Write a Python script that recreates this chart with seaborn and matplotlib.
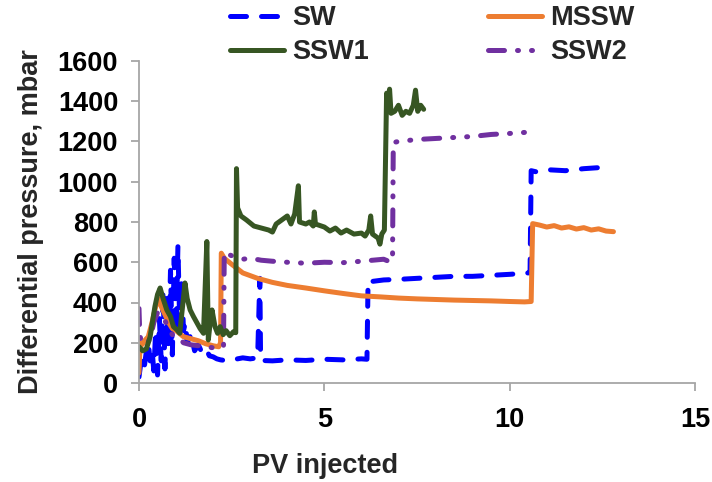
import matplotlib
matplotlib.use("Agg")
import matplotlib.pyplot as plt
import seaborn as sns
import pandas as pd

# ---------------- data ----------------
sw_x = [0.00, 0.05, 0.10, 0.15, 0.20, 0.25, 0.30, 0.35, 0.40, 0.45, 0.50, 0.55, 0.60, 0.65,
        0.70, 0.75, 0.80, 0.85, 0.90, 0.95, 1.00, 1.05, 1.10, 1.15, 1.20, 1.25, 1.30, 1.40,
        1.50, 1.60, 1.70, 1.80, 1.90, 2.00, 2.10, 2.20, 2.40, 2.60, 2.80, 3.00, 3.20, 3.26,
        3.28, 3.30, 3.60, 4.00, 4.50, 5.00, 5.50, 6.00, 6.15, 6.18, 6.30, 6.60, 7.00, 7.50,
        8.00, 8.50, 9.00, 9.50, 10.00, 10.40, 10.55, 10.58, 10.70, 11.00, 11.50, 12.00, 12.40]
sw_y = [30, 100, 140, 90, 160, 200, 110, 170, 60, 260, 40, 320, 110, 460,
        70, 420, 190, 560, 140, 620, 240, 680, 280, 520, 260, 300, 200, 240,
        160, 190, 150, 170, 135, 130, 120, 115, 110, 118, 125, 120, 125, 520,
        125, 112, 110, 115, 112, 118, 115, 120, 118, 510, 505, 512, 515, 520,
        525, 530, 530, 535, 540, 545, 548, 1055, 1050, 1060, 1055, 1065, 1070]

mssw_x = [0.00, 0.03, 0.08, 0.15, 0.25, 0.35, 0.45, 0.52, 0.60, 0.70, 0.80, 0.90, 1.00, 1.20,
          1.40, 1.60, 1.80, 2.00, 2.15, 2.20, 2.22, 2.30, 2.50, 2.80, 3.20, 3.60, 4.00, 4.50,
          5.00, 5.50, 6.00, 6.50, 7.00, 7.50, 8.00, 8.50, 9.00, 9.50, 10.00, 10.40, 10.58,
          10.62, 10.80, 11.00, 11.20, 11.40, 11.60, 11.80, 12.00, 12.20, 12.40, 12.60, 12.80]
mssw_y = [50, 200, 190, 210, 230, 300, 380, 420, 380, 340, 300, 270, 260, 230,
          220, 210, 195, 185, 180, 200, 645, 620, 590, 547, 520, 500, 485, 472,
          458, 445, 433, 428, 422, 418, 415, 412, 410, 408, 405, 403, 405,
          792, 785, 775, 782, 770, 776, 765, 772, 760, 766, 755, 752]

ssw1_x = [0.00, 0.10, 0.20, 0.30, 0.43, 0.50, 0.57, 0.65, 0.75, 0.85, 0.93, 1.02, 1.10, 1.24,
          1.30, 1.38, 1.47, 1.56, 1.65, 1.74, 1.83, 1.87, 1.92, 1.97, 2.05, 2.12, 2.19, 2.27,
          2.35, 2.45, 2.55, 2.61, 2.63, 2.66, 2.75, 2.90, 3.10, 3.30, 3.50, 3.60, 3.70, 3.85,
          4.00, 4.10, 4.20, 4.30, 4.33, 4.50, 4.60, 4.70, 4.73, 4.76, 5.00, 5.15, 5.30, 5.45,
          5.60, 5.80, 6.00, 6.10, 6.20, 6.25, 6.30, 6.45, 6.50, 6.55, 6.62, 6.68, 6.72, 6.76,
          6.80, 6.90, 7.00, 7.10, 7.20, 7.30, 7.40, 7.46, 7.52, 7.60, 7.68]
ssw1_y = [180, 160, 170, 230, 380, 440, 472, 420, 363, 330, 280, 265, 247, 497,
          420, 363, 330, 300, 270, 247, 703, 214, 300, 363, 280, 247, 280, 240,
          260, 235, 255, 250, 1065, 870, 830, 810, 780, 770, 760, 750, 790, 810,
          830, 790, 840, 980, 800, 790, 800, 780, 850, 790, 775, 755, 770, 745,
          760, 740, 745, 730, 760, 830, 740, 720, 690, 740, 760, 1440, 1400, 1460,
          1340, 1350, 1380, 1330, 1350, 1340, 1380, 1455, 1350, 1380, 1360]

ssw2_x = [0.00, 0.02, 0.05, 0.10, 0.20, 0.30, 0.40, 0.50, 0.60, 0.70, 0.80, 0.90, 1.00, 1.10,
          1.20, 1.40, 1.60, 1.80, 2.00, 2.20, 2.28, 2.30, 2.40, 2.60, 2.80, 3.00, 3.30, 3.60,
          4.00, 4.50, 5.00, 5.50, 6.00, 6.30, 6.60, 6.80, 6.84, 6.86, 7.00, 7.50, 8.00, 8.50,
          9.00, 9.50, 10.00, 10.40, 10.70]
ssw2_y = [370, 250, 210, 200, 190, 220, 300, 350, 320, 310, 270, 240, 235, 220,
          200, 190, 185, 180, 175, 178, 180, 650, 640, 625, 615, 620, 610, 605,
          600, 595, 600, 598, 605, 610, 615, 600, 620, 1195, 1200, 1210, 1215, 1220,
          1225, 1235, 1240, 1245, 1250]

series_names = ["SW", "SSW1", "MSSW", "SSW2"]
x_ticks = [0, 5, 10, 15]
y_ticks = [0, 200, 400, 600, 800, 1000, 1200, 1400, 1600]

# ---------------- style ----------------
sns.set_theme(style="white")
plt.rcParams["font.family"] = ["Liberation Sans", "DejaVu Sans"]
plt.rcParams["font.weight"] = "bold"
FS = 19.5

fig = plt.figure(figsize=(7.12, 4.82), dpi=100)
ax = fig.add_axes([139 / 712, 1 - 383 / 482, (695 - 139) / 712, (383 - 61) / 482])

lw = 3.6
styles = {
    "SW": dict(color="#0000FF", linestyle=(0, (3.2, 3.0)), data=(sw_x, sw_y)),
    "SSW1": dict(color="#375623", linestyle="-", data=(ssw1_x, ssw1_y)),
    "MSSW": dict(color="#ED7D31", linestyle="-", data=(mssw_x, mssw_y)),
    "SSW2": dict(color="#7030A0", linestyle=(0, (3.2, 2.6, 0.2, 2.6, 0.2, 2.6)), data=(ssw2_x, ssw2_y)),
}
draw_order = ["SW", "MSSW", "SSW2", "SSW1"]
handles = {}
for name in draw_order:
    st = styles[name]
    xs, ys = st["data"]
    df = pd.DataFrame({"x": xs, "y": ys})
    sns.lineplot(data=df, x="x", y="y", ax=ax, sort=False, estimator=None,
                 color=st["color"], linewidth=lw, linestyle=st["linestyle"])
    ln = ax.get_lines()[-1]
    ln.set_dash_capstyle("round")
    ln.set_solid_capstyle("round")
    ln.set_solid_joinstyle("round")
    handles[name] = ln

ax.set_xlim(0, 15)
ax.set_ylim(0, 1600)
ax.set_xticks(x_ticks)
ax.set_yticks(y_ticks)
ax.set_xticklabels([str(t) for t in x_ticks], fontsize=FS, fontweight="bold")
ax.set_yticklabels([str(t) for t in y_ticks], fontsize=FS, fontweight="bold")
ax.tick_params(axis="both", direction="out", length=6, width=1.3, color="#A6A6A6",
               labelcolor="black")
ax.tick_params(axis="x", bottom=True, pad=11)
ax.tick_params(axis="y", left=True, pad=9)
for s in ["top", "right"]:
    ax.spines[s].set_visible(False)
for s in ["left", "bottom"]:
    ax.spines[s].set_color("#A6A6A6")
    ax.spines[s].set_linewidth(1.3)
ax.grid(False)

ax.set_xlabel("PV injected", fontsize=FS, fontweight="bold")
ax.xaxis.set_label_coords((325 - 139) / 556, -0.218)
ax.set_ylabel("Differential pressure, mbar", fontsize=FS, fontweight="bold", labelpad=10)

leg = fig.legend([handles[n] for n in series_names], series_names,
                 loc="upper left", bbox_to_anchor=(230 / 712, 1 - 5 / 482), ncol=2,
                 frameon=False, prop={"weight": "bold", "size": FS},
                 handlelength=2.0, handletextpad=0.3, columnspacing=4.4,
                 labelspacing=0.3, borderpad=0.0, borderaxespad=0.0)
for lh in leg.get_lines():
    lh.set_linewidth(lw)

fig.savefig("out.png", dpi=100)
